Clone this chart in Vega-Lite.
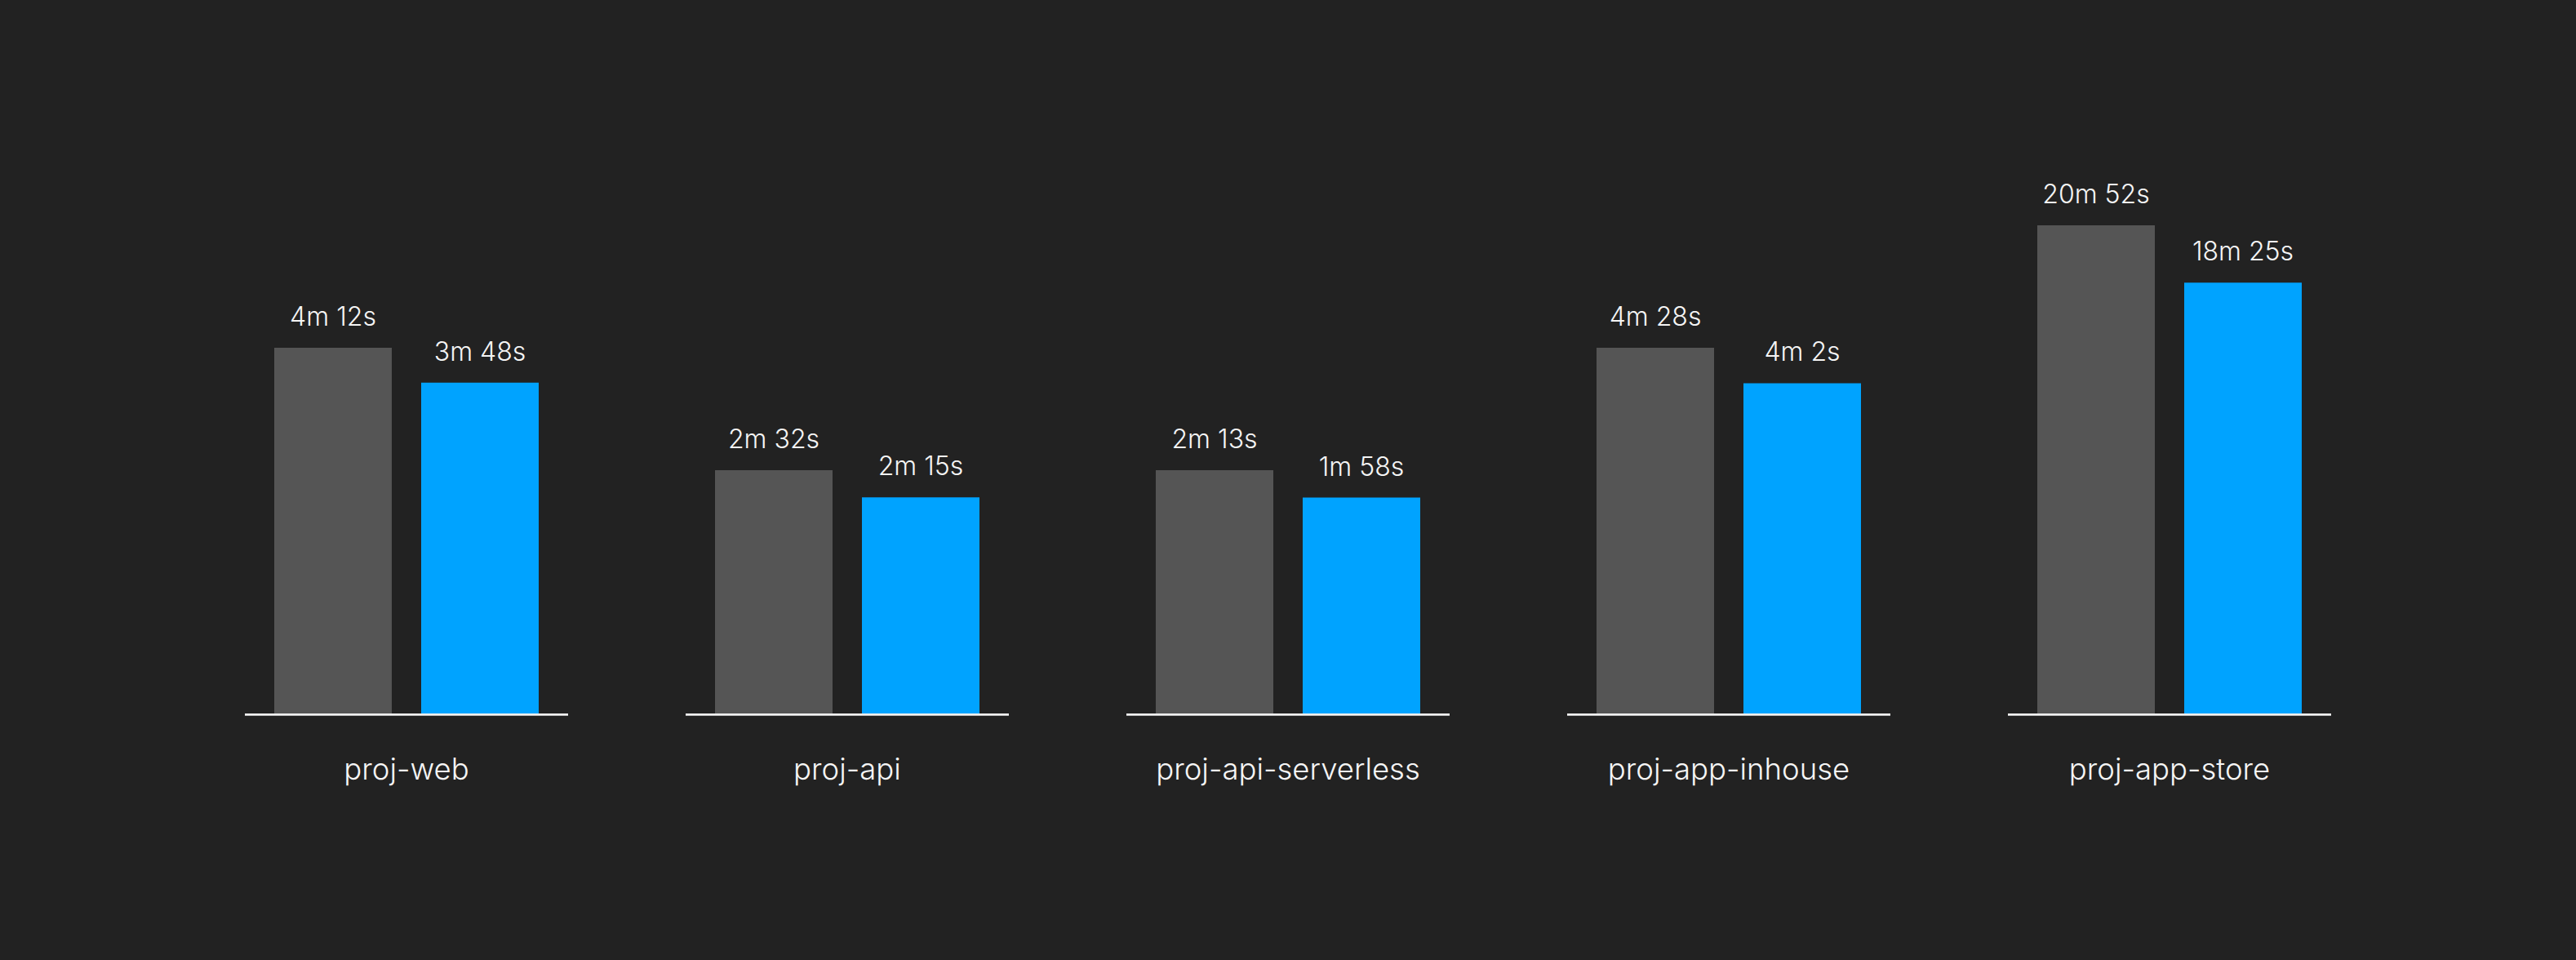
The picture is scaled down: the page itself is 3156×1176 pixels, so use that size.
{
  "$schema": "https://vega.github.io/schema/vega-lite/v6.json",
  "width": 2700,
  "height": 800,
  "autosize": {"type": "none"},
  "padding": {"left": 228, "right": 228, "top": 74, "bottom": 302},
  "background": "#222222",
  "config": {
    "view": {"stroke": null},
    "font": "Inter",
    "text": {"font": "Inter"}
  },
  "data": {
    "values": [
      {"project": "proj-web", "build": "Before", "seconds": 252, "label": "4m 12s"},
      {"project": "proj-web", "build": "After", "seconds": 228, "label": "3m 48s"},
      {"project": "proj-api", "build": "Before", "seconds": 152, "label": "2m 32s"},
      {"project": "proj-api", "build": "After", "seconds": 135, "label": "2m 15s"},
      {"project": "proj-api-serverless", "build": "Before", "seconds": 133, "label": "2m 13s"},
      {"project": "proj-api-serverless", "build": "After", "seconds": 118, "label": "1m 58s"},
      {"project": "proj-app-inhouse", "build": "Before", "seconds": 268, "label": "4m 28s"},
      {"project": "proj-app-inhouse", "build": "After", "seconds": 242, "label": "4m 2s"},
      {"project": "proj-app-store", "build": "Before", "seconds": 1252, "label": "20m 52s"},
      {"project": "proj-app-store", "build": "After", "seconds": 1105, "label": "18m 25s"}
    ]
  },
  "encoding": {
    "x": {
      "field": "project",
      "type": "nominal",
      "sort": ["proj-web", "proj-api", "proj-api-serverless", "proj-app-inhouse", "proj-app-store"],
      "scale": {"paddingInner": 0.266667, "paddingOuter": 0.133333},
      "axis": {
        "title": null,
        "domain": false,
        "ticks": false,
        "tickSize": 0,
        "grid": false,
        "labelAngle": 0,
        "labelPadding": 80,
        "labelBaseline": "alphabetic",
        "labelFont": "Inter",
        "labelFontSize": 36.5,
        "labelFontWeight": 300,
        "labelLimit": 0,
        "labelColor": "#f5f5f5"
      }
    }
  },
  "layer": [
    {
      "mark": {"type": "rect", "color": "#f0f0f0", "y2Offset": 2.5},
      "encoding": {
        "y": {"datum": 0, "type": "quantitative", "scale": {"domain": [0, 1], "nice": false}, "axis": null},
        "y2": {"datum": 0}
      }
    },
    {
      "transform": [{"filter": "datum.project === 'proj-web'"}],
      "encoding": {
        "xOffset": {"field": "build", "type": "nominal", "sort": ["Before", "After"], "scale": {"paddingInner": 0.2, "paddingOuter": 0.2}},
        "y": {"field": "seconds", "type": "quantitative", "scale": {"domain": [0, 450], "nice": false, "zero": true}, "axis": null}
      },
      "layer": [
        {"mark": {"type": "bar"}, "encoding": {"color": {"field": "build", "type": "nominal", "scale": {"domain": ["Before", "After"], "range": ["#555555", "#00a3ff"]}, "legend": null}}},
        {"mark": {"type": "text", "baseline": "alphabetic", "dy": -27, "fontSize": 32, "fontWeight": 300, "color": "#f5f5f5"}, "encoding": {"text": {"field": "label"}}}
      ]
    },
    {
      "transform": [{"filter": "datum.project === 'proj-api'"}],
      "encoding": {
        "xOffset": {"field": "build", "type": "nominal", "sort": ["Before", "After"], "scale": {"paddingInner": 0.2, "paddingOuter": 0.2}},
        "y": {"field": "seconds", "type": "quantitative", "scale": {"domain": [0, 408.05], "nice": false, "zero": true}, "axis": null}
      },
      "layer": [
        {"mark": {"type": "bar"}, "encoding": {"color": {"field": "build", "type": "nominal", "scale": {"domain": ["Before", "After"], "range": ["#555555", "#00a3ff"]}, "legend": null}}},
        {"mark": {"type": "text", "baseline": "alphabetic", "dy": -27, "fontSize": 32, "fontWeight": 300, "color": "#f5f5f5"}, "encoding": {"text": {"field": "label"}}}
      ]
    },
    {
      "transform": [{"filter": "datum.project === 'proj-api-serverless'"}],
      "encoding": {
        "xOffset": {"field": "build", "type": "nominal", "sort": ["Before", "After"], "scale": {"paddingInner": 0.2, "paddingOuter": 0.2}},
        "y": {"field": "seconds", "type": "quantitative", "scale": {"domain": [0, 357.05], "nice": false, "zero": true}, "axis": null}
      },
      "layer": [
        {"mark": {"type": "bar"}, "encoding": {"color": {"field": "build", "type": "nominal", "scale": {"domain": ["Before", "After"], "range": ["#555555", "#00a3ff"]}, "legend": null}}},
        {"mark": {"type": "text", "baseline": "alphabetic", "dy": -27, "fontSize": 32, "fontWeight": 300, "color": "#f5f5f5"}, "encoding": {"text": {"field": "label"}}}
      ]
    },
    {
      "transform": [{"filter": "datum.project === 'proj-app-inhouse'"}],
      "encoding": {
        "xOffset": {"field": "build", "type": "nominal", "sort": ["Before", "After"], "scale": {"paddingInner": 0.2, "paddingOuter": 0.2}},
        "y": {"field": "seconds", "type": "quantitative", "scale": {"domain": [0, 478.57], "nice": false, "zero": true}, "axis": null}
      },
      "layer": [
        {"mark": {"type": "bar"}, "encoding": {"color": {"field": "build", "type": "nominal", "scale": {"domain": ["Before", "After"], "range": ["#555555", "#00a3ff"]}, "legend": null}}},
        {"mark": {"type": "text", "baseline": "alphabetic", "dy": -27, "fontSize": 32, "fontWeight": 300, "color": "#f5f5f5"}, "encoding": {"text": {"field": "label"}}}
      ]
    },
    {
      "transform": [{"filter": "datum.project === 'proj-app-store'"}],
      "encoding": {
        "xOffset": {"field": "build", "type": "nominal", "sort": ["Before", "After"], "scale": {"paddingInner": 0.2, "paddingOuter": 0.2}},
        "y": {"field": "seconds", "type": "quantitative", "scale": {"domain": [0, 1674.9], "nice": false, "zero": true}, "axis": null}
      },
      "layer": [
        {"mark": {"type": "bar"}, "encoding": {"color": {"field": "build", "type": "nominal", "scale": {"domain": ["Before", "After"], "range": ["#555555", "#00a3ff"]}, "legend": null}}},
        {"mark": {"type": "text", "baseline": "alphabetic", "dy": -27, "fontSize": 32, "fontWeight": 300, "color": "#f5f5f5"}, "encoding": {"text": {"field": "label"}}}
      ]
    }
  ],
  "resolve": {"scale": {"y": "independent"}}
}
